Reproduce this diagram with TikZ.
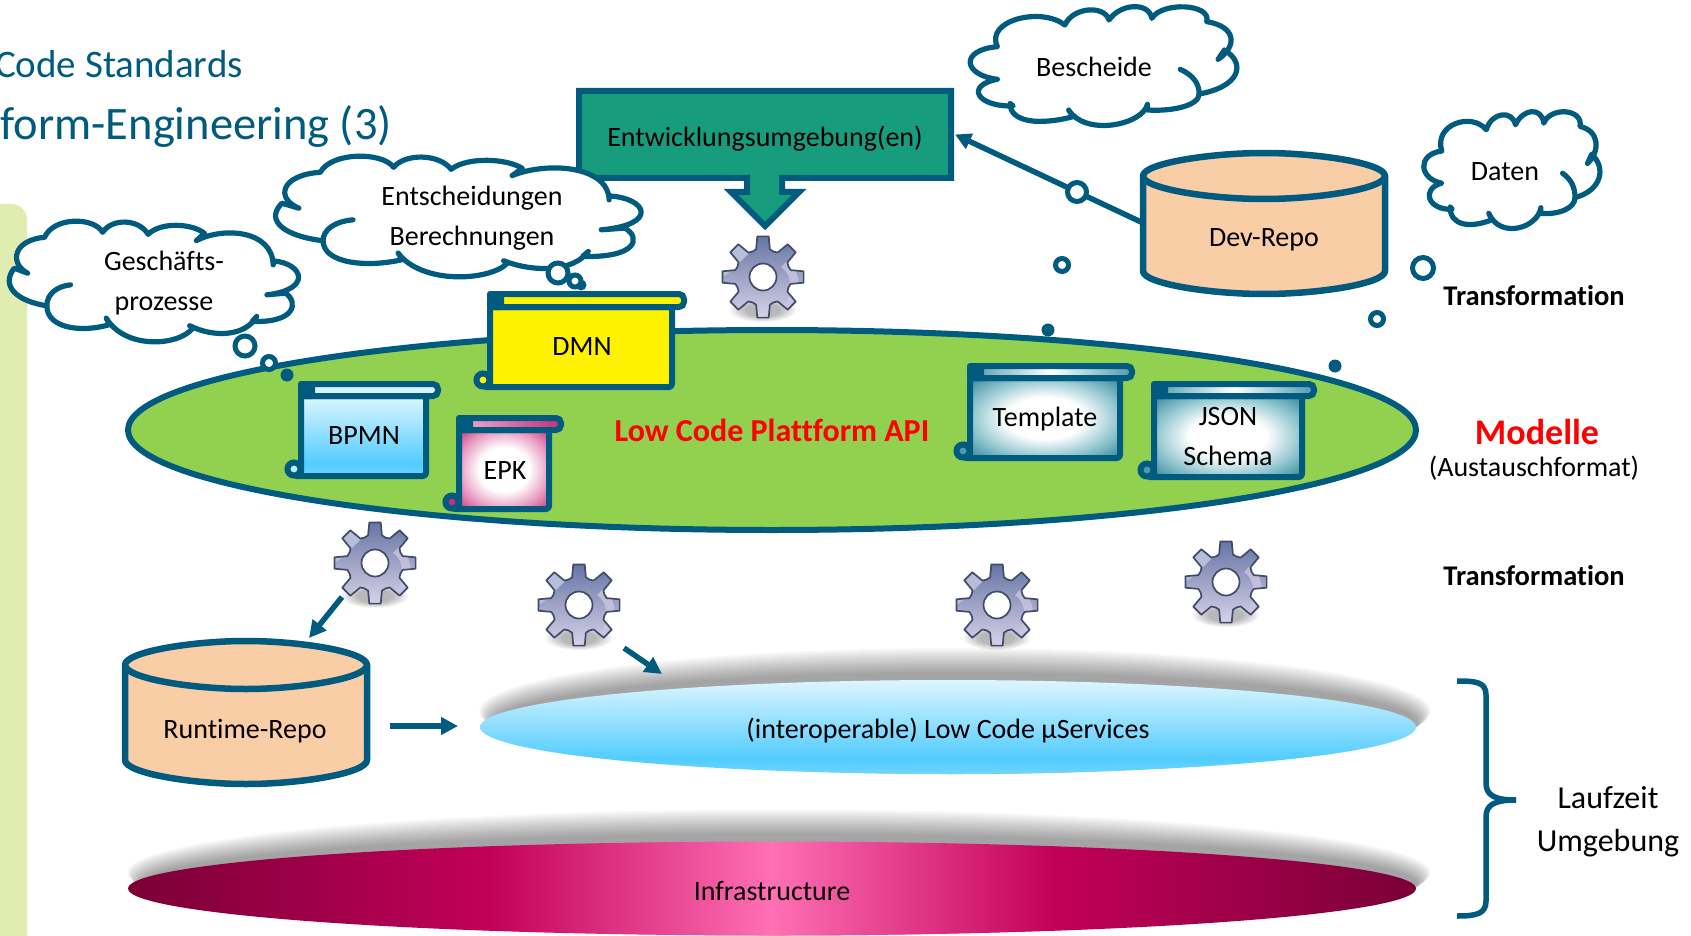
\documentclass[tikz,border=0pt]{standalone}
\usepackage{fontspec}
\setmainfont[Ligatures=NoCommon]{Carlito}
\usetikzlibrary{arrows.meta,calc}
\definecolor{fhblue}{HTML}{005B7F}
\definecolor{fhgreen}{HTML}{179C7D}
\definecolor{panelc}{HTML}{E1EDB0}
\definecolor{leaf}{HTML}{92D050}
\definecolor{repoc}{HTML}{F9CDA6}
\definecolor{gearline}{HTML}{414B6B}
\newcommand{\hc}[1]{\definecolor{HTML#1}{HTML}{#1}}
\hc{6FD5FF}\hc{52CCFF}\hc{DDF6FF}\hc{7A0036}\hc{C2005A}\hc{FF70B4}\hc{8CC3CD}\hc{2F8196}\hc{E89CC2}\hc{C5307A}\hc{4F9AAA}\hc{EDB0CF}\hc{D8F2FF}\hc{BEEBFF}\hc{6676A4}\hc{D8D2E8}\hc{B6BED8}\hc{CBC5E0}
\pgfdeclareverticalshading{skyv}{100bp}{color(0bp)=(HTML6FD5FF);color(25bp)=(HTML6FD5FF);color(33bp)=(HTML52CCFF);color(75bp)=(HTMLDDF6FF);color(100bp)=(HTMLDDF6FF)}
\pgfdeclarehorizontalshading{infrah}{100bp}{color(0bp)=(HTML7A0036);color(25bp)=(HTML7A0036);color(39bp)=(HTMLC2005A);color(50bp)=(HTMLFF70B4);color(61bp)=(HTMLC2005A);color(75bp)=(HTML7A0036);color(100bp)=(HTML7A0036)}
\pgfdeclareradialshading{tealr}{\pgfpoint{0bp}{0bp}}{color(0bp)=(white);color(13bp)=(white);color(25bp)=(HTML8CC3CD);color(36bp)=(HTML2F8196);color(71bp)=(HTML2F8196)}
\pgfdeclareradialshading{pinkr}{\pgfpoint{0bp}{0bp}}{color(0bp)=(white);color(14bp)=(white);color(25bp)=(HTMLE89CC2);color(36bp)=(HTMLC5307A);color(71bp)=(HTMLC5307A)}
\pgfdeclarehorizontalshading{tealh}{100bp}{color(0bp)=(HTML4F9AAA);color(25bp)=(HTML4F9AAA);color(50bp)=(white);color(75bp)=(HTML4F9AAA);color(100bp)=(HTML4F9AAA)}
\pgfdeclarehorizontalshading{pinkh}{100bp}{color(0bp)=(HTMLEDB0CF);color(25bp)=(HTMLEDB0CF);color(75bp)=(HTMLC5307A);color(100bp)=(HTMLC5307A)}
\tikzset{
  lab/.style={inner sep=0pt,outer sep=0pt,align=center,font=\fontsize{28}{40}\selectfont,text=black},
  labbold/.style={lab,font=\fontsize{28.5}{32}\selectfont\bfseries},
  titletext/.style={inner sep=0pt,text=fhblue,anchor=east},
  linkarrow/.style={draw=fhblue,line width=5.5pt,-{Triangle[length=17pt,width=17pt]}},
  ringb/.style={draw=fhblue,fill=white,line width=5pt},
  dotb/.style={fill=fhblue},
  cloudline/.style={draw=fhblue,line width=5.2pt,line join=round,line cap=round},
  repobody/.style={draw=fhblue,fill=repoc,line width=6.5pt,line join=round},
  blue body/.style={shading=skyv},
  blue bar/.style={fill=HTMLD8F2FF},
  blue curl/.style={fill=HTMLBEEBFF},
  yellow body/.style={fill=yellow},
  yellow bar/.style={fill=yellow},
  yellow curl/.style={fill=yellow},
  pink body/.style={shading=pinkr},
  pink bar/.style={shading=pinkh},
  pink curl/.style={fill=HTMLC5307A},
  teal body/.style={shading=tealr},
  teal bar/.style={shading=tealh},
  teal curl/.style={fill=HTML4F9AAA},
}
% gear outline, centred on the origin of the current scope
\def\gearpath{(82:41)
  \foreach \a in {90,135,...,405}{
    -- (\a+8:41) -- (\a+14:28.5) -- (\a+22.5:27.5) -- (\a+31:28.5) -- (\a+37:41)
  } -- cycle}
\newcommand{\gearat}[3]{%
  \begin{scope}[shift={(#2,#3)}]
    \coordinate (#1) at (0,0);
    \foreach \k in {1,...,6}{
      \fill[black,opacity=.05] (0,33) ellipse [x radius={36-3*\k pt},y radius={13-\k pt}];
    }
    \shade[top color=HTML6676A4,bottom color=HTMLD8D2E8] \gearpath;
    \begin{scope}
      \clip \gearpath;
      \fill[HTMLB6BED8] (-44,-44) -- (-8,-44) .. controls (-10,-25) and (-16,-22) .. (-20,-18) .. controls (-26,-12) and (-30,-6) .. (-44,2) -- cycle;
      \fill[HTMLCBC5E0,opacity=.8] (18,-10) .. controls (30,-2) and (30,16) .. (20,32) -- (26,34) .. controls (40,14) and (38,-6) .. (24,-16) -- cycle;
    \end{scope}
    \draw[gearline,line width=1.7pt,line join=round] \gearpath;
    \draw[gearline,fill=white,line width=1.7pt] (0,0) circle [radius=13.5pt];
  \end{scope}}
% scroll: L R Ttop Tbar B Rend kind
\newcommand{\scrollbox}[7]{%
  \draw[draw=fhblue,line width=6pt,#7 curl] (#1-7,#5-7) circle [radius=6.5pt];
  \path[#7 body] (#1,#4) -- (#2,#4) -- (#2,#5) -- (#1,#5) -- cycle;
  \draw[draw=fhblue,line width=6pt,line join=round,rounded corners=3pt] (#1,#4) -- (#2,#4) -- (#2,#5) -- (#1-6,#5) -- (#1,#5) -- cycle;
  \path[#7 bar] (#1,#3) rectangle (#6,#4);
  \draw[draw=fhblue,line width=6pt,rounded corners=5pt] (#1,#3) rectangle (#6,#4);
  \fill[fhblue,rounded corners=3pt] (#1-3,#3-3) rectangle (#1+14,#4+3);
}
% cylinder: L R cy ry by
\newcommand{\cyl}[5]{%
  \pgfmathsetmacro{\cmid}{(#1+#2)/2}\pgfmathsetmacro{\crx}{(#2-#1)/2}
  \pgfmathsetmacro{\ckx}{0.45*\crx}\pgfmathsetmacro{\cky}{0.55*#4}
  \draw[repobody] (#1,#3) -- (#1,#5) .. controls (#1,#5+\cky) and (\cmid-\ckx,#5+#4) .. (\cmid,#5+#4)
     .. controls (\cmid+\ckx,#5+#4) and (#2,#5+\cky) .. (#2,#5) -- (#2,#3)
     .. controls (#2,#3-\cky) and (\cmid+\ckx,#3-#4) .. (\cmid,#3-#4)
     .. controls (\cmid-\ckx,#3-#4) and (#1,#3-\cky) .. (#1,#3) -- cycle;
  \draw[draw=fhblue,line width=6.5pt] (#1,#3) .. controls (#1,#3+\cky) and (\cmid-\ckx,#3+#4) .. (\cmid,#3+#4)
     .. controls (\cmid+\ckx,#3+#4) and (#2,#3+\cky) .. (#2,#3);
}
% clouds, traced shapes mapped onto a box x0 y0 x1 y1
\newcommand{\cloudA}[4]{%
  \pgfmathsetmacro{\sx}{(#3-#1)/654}\pgfmathsetmacro{\sy}{(#4-#2)/370}
  \begin{scope}[shift={(#1,#2)},x=\sx pt,y=-\sy pt,shift={(-18,-660)}]
    \draw[cloudline,fill=white] (105,918) .. controls (40,905) and (0,860) .. (32,805) -- (62,820)
      .. controls (20,790) and (30,720) .. (100,712)
      .. controls (120,650) and (210,650) .. (230,697)
      .. controls (250,655) and (310,655) .. (332,703)
      .. controls (360,665) and (430,670) .. (458,700) -- (440,722)
      .. controls (500,680) and (610,690) .. (612,795) -- (612,783)
      .. controls (680,790) and (700,870) .. (598,885) -- (640,880)
      .. controls (670,910) and (660,970) .. (565,965) -- (575,950)
      .. controls (550,1010) and (480,1015) .. (425,978) -- (432,985)
      .. controls (400,1040) and (280,1050) .. (238,955) -- (245,975)
      .. controls (180,1000) and (105,985) .. (105,918) -- cycle;
    \draw[cloudline] (105,918) .. controls (105,885) and (125,860) .. (158,855);
  \end{scope}}
\newcommand{\cloudB}[4]{%
  \pgfmathsetmacro{\sx}{(#3-#1)/425}\pgfmathsetmacro{\sy}{(#4-#2)/375}
  \begin{scope}[shift={(#1,#2)},x=\sx pt,y=-\sy pt,shift={(-425,-15)}]
    \draw[cloudline,fill=white] (495,318) .. controls (435,320) and (420,255) .. (470,238)
      .. controls (415,225) and (410,150) .. (470,140)
      .. controls (450,60) and (540,20) .. (577,75)
      .. controls (590,20) and (640,15) .. (647,60)
      .. controls (665,10) and (710,5) .. (715,55)
      .. controls (730,5) and (810,10) .. (802,65)
      .. controls (850,80) and (850,140) .. (820,178) -- (830,150)
      .. controls (865,190) and (855,260) .. (790,282)
      .. controls (790,315) and (750,335) .. (708,330) -- (708,313)
      .. controls (700,375) and (610,410) .. (583,330) -- (590,350)
      .. controls (540,375) and (490,370) .. (490,310) -- cycle;
    \draw[cloudline] (790,282) .. controls (790,250) and (780,225) .. (760,208);
  \end{scope}}
% soft shadow above a flat ellipse: cx cy rx ry
\newcommand{\softshadow}[4]{%
  \foreach \d in {8,10,...,32}{
    \fill[black,opacity=.032] (#1+7,#2-\d/2) ellipse [x radius={#3-10+0.55*\d pt},y radius={#4+\d/2 pt}];
  }}
\begin{document}
\begin{tikzpicture}[x=1pt,y=-1pt]
\useasboundingbox (0,0) rectangle (1691,936);
\fill[white] (0,0) rectangle (1691,936);
% side panel
\fill[panelc,rounded corners=16pt] (-30,204) rectangle (27,960);
% titles
\node[titletext,font=\fontsize{39}{44}\selectfont] (title1) at (243,64) {Code Standards};
\node[titletext,font=\fontsize{46.5}{52}\selectfont] (title2) at (392,126) {form-Engineering (3)};
% runtime layers
\softshadow{948}{727}{468}{47}
\path[shading=skyv] (948,727) ellipse [x radius=468pt,y radius=47pt];
\softshadow{772}{888.5}{644}{47}
\path[shading=infrah] (772,888.5) ellipse [x radius=644pt,y radius=47pt];
\node[lab] (svc) at (948,731) {(interoperable) Low Code µServices};
\node[lab] (infra) at (772,891) {Infrastructure};
% platform ellipse
\draw[draw=fhblue,fill=leaf,line width=6pt] (772,430) ellipse [x radius=644pt,y radius=100pt];
\node[labbold,text=red,font=\fontsize{32}{36}\selectfont\bfseries] (api) at (772,430) {Low Code Plattform API};
% development environment with pointer
\draw[draw=fhblue,fill=fhgreen,line width=6pt,miter limit=4] (579,91) -- (951,91) -- (951,178) -- (782,178) -- (782,192) -- (799,192) -- (765,226) -- (731,192) -- (747,192) -- (747,178) -- (579,178) -- cycle;
\node[lab,minimum width=378pt,minimum height=93pt] (ent) at (766,134.5) {};
\node[lab] (entlab) at (765,139) {Entwicklungsumgebung(en)};
% repositories
\cyl{1143}{1385}{176}{23}{271}
\node[lab] (dev) at (1264,240) {Dev-Repo};
\coordinate (devL) at (1141,222);
\cyl{125}{367}{665}{24}{760}
\node[lab] (run) at (245,731) {Runtime-Repo};
% scrolls
\scrollbox{490}{672}{294}{307}{387}{684}{yellow}
\scrollbox{301}{426}{384}{396}{476}{438}{blue}
\scrollbox{459}{549}{418}{430}{509}{561}{pink}
\scrollbox{970}{1120}{366}{378}{458}{1132}{teal}
\scrollbox{1154}{1302}{384}{396}{477}{1314}{teal}
\node[lab] (dmn) at (582,347) {DMN};
\node[lab] (bpmn) at (364,436) {BPMN};
\node[lab] (epk) at (505,471) {EPK};
\node[lab] (tmpl) at (1045,419) {Template};
\node[lab] (json) at (1228,437) {JSON\\Schema};
% clouds
\cloudA{274}{155}{643}{278}
\cloudA{8}{220}{300}{343}
\cloudB{969}{5}{1237}{130}
\cloudB{1423}{110}{1600}{233}
\node[lab] (c1) at (164,283) {Geschäfts-\\prozesse};
\node[lab] (c2) at (472,218) {Entscheidungen\\Berechnungen};
\node[lab] (c3) at (1094,67) {Bescheide};
\node[lab] (c4) at (1505,172) {Daten};
% gears
\gearat{g0}{763}{277}
\gearat{g1}{375}{563}
\gearat{g2}{579}{605}
\gearat{g3}{997}{605}
\gearat{g4}{1226}{582}
% connectors
\coordinate (g1out) at (342,597);
\coordinate (run1) at (309,638);
\coordinate (g2out) at (624,648);
\coordinate (svc1) at (662,674);
\coordinate (run2) at (390,726);
\coordinate (svc2) at (458,726);
\draw[linkarrow] (g1out) -- (run1);
\draw[linkarrow] (g2out) -- (svc1);
\draw[linkarrow] (run2) -- (svc2);
\draw[linkarrow,-{Triangle[length=16pt,width=16pt]}] (devL) -- (ent.east);
% thought bubbles
\fill[dotb] (287,375) circle [radius=6.5pt];
\draw[ringb] (269,363) circle [radius=6.5pt];
\draw[ringb] (245,346) circle [radius=10pt];
\fill[dotb] (581,285) circle [radius=5.5pt];
\draw[ringb] (575,281) circle [radius=6pt];
\draw[ringb] (558,273) circle [radius=10pt];
\draw[ringb] (1077,192) circle [radius=9.5pt];
\draw[ringb] (1062,265) circle [radius=6.5pt];
\fill[dotb] (1048,330) circle [radius=6.5pt];
\draw[ringb] (1423,268) circle [radius=10.5pt];
\draw[ringb] (1377,319) circle [radius=6.5pt];
\fill[dotb] (1335,366) circle [radius=6.5pt];
% side labels
\node[labbold] (tr1) at (1534,296) {Transformation};
\node[labbold] (tr2) at (1534,576) {Transformation};
\node[labbold,text=red,font=\fontsize{36}{40}\selectfont\bfseries] (mod) at (1537,432) {Modelle};
\node[lab] (aus) at (1534,468) {(Austauschformat)};
\node[lab,font=\fontsize{32}{43}\selectfont] (lz) at (1608,822) {Laufzeit\\Umgebung};
% brace
\coordinate (brT) at (1457,681);
\coordinate (brM) at (1516,800);
\coordinate (brB) at (1457,916);
\draw[draw=fhblue,line width=5.5pt] (brT) .. controls (1476,681) and (1486,682) .. (1486,695) -- (1486,783) .. controls (1486,795) and (1494,800) .. (brM);
\draw[draw=fhblue,line width=5.5pt] (brM) .. controls (1494,800) and (1486,805) .. (1486,817) -- (1486,901) .. controls (1486,914) and (1476,916) .. (brB);
\end{tikzpicture}
\end{document}
